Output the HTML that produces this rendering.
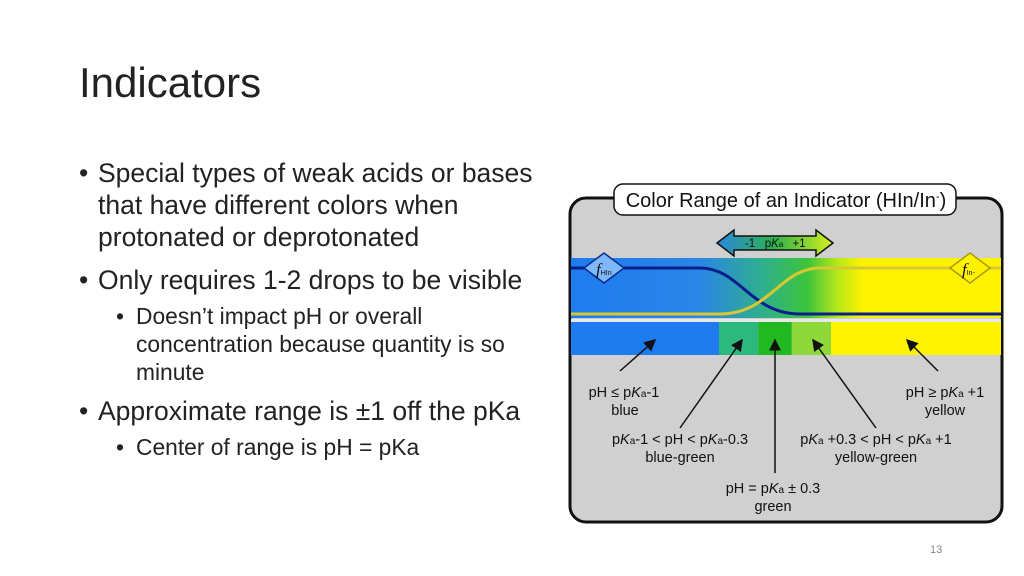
<!DOCTYPE html>
<html><head><meta charset="utf-8"><style>
body{margin:0;width:1024px;height:576px;background:#fff;overflow:hidden;position:relative;font-family:"Liberation Sans",sans-serif;color:#222}
.t{position:absolute;white-space:nowrap}
h1{position:absolute;left:79px;top:59px;margin:0;font-weight:normal;font-size:42px;color:#222}
.b{position:absolute;left:79px;font-size:26.5px;line-height:32px;white-space:nowrap}
.b span{position:absolute;left:0}
.b div{padding-left:19px}
.s{position:absolute;left:116px;font-size:22.8px;line-height:28px;white-space:nowrap}
.s span{position:absolute;left:0}
.s div{padding-left:20px}
</style></head><body>
<h1>Indicators</h1>
<div class="b" style="top:157px"><span>•</span><div>Special types of weak acids or bases<br>that have different colors when<br>protonated or deprotonated</div></div>
<div class="b" style="top:264px"><span>•</span><div>Only requires 1-2 drops to be visible</div></div>
<div class="s" style="top:302px"><span>•</span><div>Doesn’t impact pH or overall<br>concentration because quantity is so<br>minute</div></div>
<div class="b" style="top:395px"><span>•</span><div>Approximate range is ±1 off the pKa</div></div>
<div class="s" style="top:433px"><span>•</span><div>Center of range is pH = pKa</div></div>
<div class="t" style="left:930px;top:544px;font-size:11px;color:#888">13</div>

<svg width="1024" height="576" style="position:absolute;left:0;top:0">
<defs>
<linearGradient id="g" x1="0" x2="1"><stop offset="0" stop-color="#1e7cf0"/><stop offset="0.3" stop-color="#2a86e6"/><stop offset="0.45" stop-color="#2fb08a"/><stop offset="0.55" stop-color="#3cc43a"/><stop offset="0.62" stop-color="#b7e81a"/><stop offset="0.68" stop-color="#fff200"/><stop offset="1" stop-color="#fff200"/></linearGradient>
<linearGradient id="ga" x1="0" x2="1"><stop offset="0" stop-color="#2a88e0"/><stop offset="0.5" stop-color="#2eb24a"/><stop offset="1" stop-color="#d6f020"/></linearGradient>
<marker id="ah" markerWidth="8" markerHeight="8" refX="7" refY="4" orient="auto"><path d="M0,0 L8,4 L0,8 z" fill="#111"/></marker>
</defs>
<rect x="570" y="198" width="432" height="324" rx="16" fill="#d0d0d0" stroke="#111" stroke-width="3"/>
<rect x="614" y="184" width="342" height="31" rx="9" fill="#fff" stroke="#111" stroke-width="1.5"/>
<text x="786" y="207" font-size="20" text-anchor="middle" fill="#111">Color Range of an Indicator (HIn/In<tspan font-size="11" dy="-7">-</tspan><tspan dy="7">)</tspan></text>
<path d="M717,243 L734,230 L734,236 L816,236 L816,230 L833,243 L816,256 L816,250 L734,250 L734,256 Z" fill="url(#ga)" stroke="#111" stroke-width="1.5"/>
<g font-size="11.5" fill="#111" text-anchor="middle">
<text x="750" y="247">-1</text><text x="774" y="247">p<tspan font-style="italic">K</tspan><tspan font-size="8">a</tspan></text><text x="799" y="247">+1</text></g>
<rect x="571" y="258" width="430" height="60" fill="url(#g)"/>
<path d="M571,268 L700,268 C740,268 750,314 800,314 L1001,314" fill="none" stroke="#0a1f8c" stroke-width="3"/>
<path d="M571,314 L720,314 C770,314 780,268 820,268 L1001,268" fill="none" stroke="#d8c830" stroke-width="3"/>
<path d="M604,253 L624,268 L604,283 L584,268 Z" fill="#7fb8f8" stroke="#0a2a8c" stroke-width="1.5"/>
<text x="596" y="275" font-size="17" font-style="italic" font-family="Liberation Serif" fill="#111">f<tspan font-size="7" font-style="normal" font-family="Liberation Sans">HIn</tspan></text>
<path d="M970,253 L990,268 L970,283 L950,268 Z" fill="#fff200" stroke="#a89a10" stroke-width="1.5"/>
<text x="962" y="275" font-size="17" font-style="italic" font-family="Liberation Serif" fill="#111">f<tspan font-size="7" font-style="normal" font-family="Liberation Sans">In-</tspan></text>
<rect x="571" y="319" width="430" height="3" fill="#e8e8e8"/>
<g id="bars"></g>
<g font-size="14.5" fill="#111" text-anchor="middle">
<line x1="620" y1="371" x2="655" y2="340" stroke="#111" stroke-width="1.5" marker-end="url(#ah)"/>
<line x1="680" y1="428" x2="742" y2="340" stroke="#111" stroke-width="1.5" marker-end="url(#ah)"/>
<line x1="775" y1="473" x2="775" y2="340" stroke="#111" stroke-width="1.5" marker-end="url(#ah)"/>
<line x1="876" y1="428" x2="813" y2="340" stroke="#111" stroke-width="1.5" marker-end="url(#ah)"/>
<line x1="938" y1="371" x2="907" y2="340" stroke="#111" stroke-width="1.5" marker-end="url(#ah)"/>
<text x="624" y="397">pH ≤ p<tspan font-style="italic">K</tspan><tspan font-size="10">a</tspan>-1</text><text x="625" y="415">blue</text>
<text x="680" y="444">p<tspan font-style="italic">K</tspan><tspan font-size="10">a</tspan>-1 &lt; pH &lt; p<tspan font-style="italic">K</tspan><tspan font-size="10">a</tspan>-0.3</text><text x="680" y="462">blue-green</text>
<text x="773" y="493">pH = p<tspan font-style="italic">K</tspan><tspan font-size="10">a</tspan> ± 0.3</text><text x="773" y="511">green</text>
<text x="876" y="444">p<tspan font-style="italic">K</tspan><tspan font-size="10">a</tspan> +0.3 &lt; pH &lt; p<tspan font-style="italic">K</tspan><tspan font-size="10">a</tspan> +1</text><text x="876" y="462">yellow-green</text>
<text x="945" y="397">pH ≥ p<tspan font-style="italic">K</tspan><tspan font-size="10">a</tspan> +1</text><text x="945" y="415">yellow</text>
</g>
</svg>
<script>
const segNames=['blue','blue-green','green','yellow-green','yellow'];
const segStarts=[-3.7,-1.0,-0.3,0.3,1.0];
const segEnds=[-1.0,-0.3,0.3,1.0,4.1];
const segColors=['#1e7cf0','#2db87e','#22b822','#8ed83a','#fff200'];
const x=v=>775+v*56;
const g=document.getElementById('bars');
segNames.forEach((n,i)=>{
 const r=document.createElementNS('http://www.w3.org/2000/svg','rect');
 const x0=Math.max(571,x(segStarts[i])),x1=Math.min(1001,x(segEnds[i]));
 r.setAttribute('x',x0);
 r.setAttribute('width',x1-x0);
 r.setAttribute('y',322);r.setAttribute('height',33);r.setAttribute('fill',segColors[i]);
 
 
 g.appendChild(r);
});
</script>
</body></html>
